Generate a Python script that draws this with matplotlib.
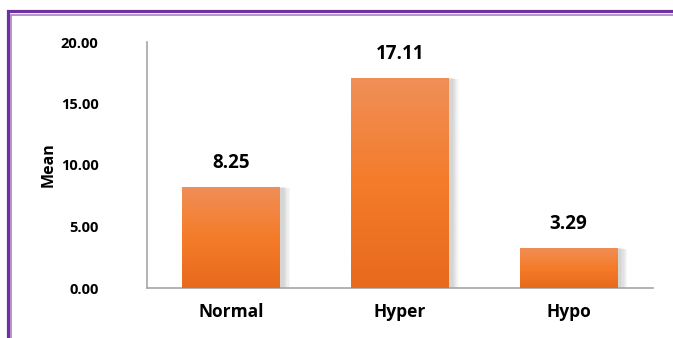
import numpy as np
import matplotlib.pyplot as plt
from matplotlib.lines import Line2D
from matplotlib.patches import Rectangle
from matplotlib.colors import LinearSegmentedColormap

categories = ['Normal', 'Hyper', 'Hypo']
means = [8.25, 17.11, 3.29]
yticks = [0.0, 5.0, 10.0, 15.0, 20.0]

plt.rcParams['font.family'] = ['Open Sans', 'DejaVu Sans']
plt.rcParams['font.weight'] = 'bold'

W, H = 673, 338
fig = plt.figure(figsize=(W / 100, H / 100), dpi=100)
ax = fig.add_axes([147 / W, 1 - 288 / H, (653 - 147) / W, (288 - 42) / H])

x = np.arange(len(categories))
bw = 0.58
bars = ax.bar(x, means, width=bw, color='none', zorder=3)

# orange vertical gradient with a soft grey shadow behind each bar
grad = LinearSegmentedColormap.from_list('org', ['#e86a1c', '#f47c2a', '#f08f58'])
img = np.linspace(0, 1, 256).reshape(-1, 1)
for b in bars:
    x0, w, h = b.get_x(), b.get_width(), b.get_height()
    for k in range(6):
        d = 0.012 + k * 0.007
        ax.add_patch(Rectangle((x0 + 0.01, -0.05), w + d, h + 0.05 - k * 0.03,
                               color='#7f7f7f', alpha=0.06, lw=0, zorder=2))
    im = ax.imshow(img, extent=(x0, x0 + w, 0, h), origin='lower', cmap=grad,
                   aspect='auto', zorder=3)
    im.set_clip_path(b)
    ax.text(b.get_x() + w / 2, h + 1.95, f'{h:.2f}', ha='center', va='center',
            fontsize=13.5, fontweight='bold', color='#000000')

ax.set_xlim(-0.5, len(categories) - 0.5)
ax.set_ylim(0, 20)
ax.set_yticks(yticks)
ax.set_yticklabels([f'{v:.2f}' for v in yticks])
ax.set_xticks(x)
ax.set_xticklabels(categories)
ax.tick_params(axis='both', length=0)
ax.tick_params(axis='y', pad=35, labelsize=10.5)
ax.tick_params(axis='x', pad=11, labelsize=12.5)
for s in ['top', 'right']:
    ax.spines[s].set_visible(False)
for s in ['left', 'bottom']:
    ax.spines[s].set_color('#a6a6a6')
    ax.spines[s].set_linewidth(1.2)
ax.set_ylabel('Mean', fontsize=11.5, fontweight='bold')
ax.yaxis.set_label_coords(-0.178, 0.5)

# purple double border running off the right and bottom edges
def fx(px):
    return px / W

def fy(py):
    return 1 - py / H

fig.add_artist(Line2D([fx(7.5), fx(7.5), fx(W + 5)], [fy(H + 5), fy(10.5), fy(10.5)],
                      color='#7030a0', lw=2.3, solid_capstyle='butt', solid_joinstyle='miter'))
fig.add_artist(Line2D([fx(11.5), fx(11.5), fx(W + 5)], [fy(H + 5), fy(14.5), fy(14.5)],
                      color='#9e78c2', lw=1.1, solid_capstyle='butt', solid_joinstyle='miter'))

fig.savefig('out.png', dpi=100)
